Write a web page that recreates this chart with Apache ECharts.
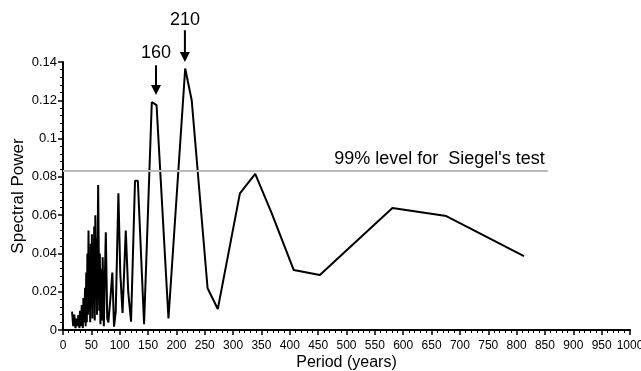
<!DOCTYPE html>
<html>
<head>
<meta charset="utf-8">
<script src="https://cdn.jsdelivr.net/npm/echarts@6/dist/echarts.min.js"></script>
<style>
  html, body { margin: 0; padding: 0; background: #fff; }
  #main { width: 641px; height: 371px; }
</style>
</head>
<body>
<div id="main"></div>
<script>
// period (years) and spectral power
var periods = [16, 18, 20, 22, 24, 26, 27, 29, 30, 32, 33, 35, 36, 37, 38, 39, 40, 41, 42, 43, 44, 45, 46, 47, 48, 49, 50,
  51, 52, 53, 54, 55, 56, 57, 58, 59, 60, 62, 64, 65, 66, 68, 69, 70, 72, 74, 75.5, 78, 80, 84, 87, 90, 93, 97.7,
  101, 105, 110.7, 115, 120, 127, 132, 143, 156.6, 165, 186, 215.5, 227, 255, 273, 312, 339, 368, 407, 453, 581, 676, 813];
var power = [0.0096, 0.002, 0.008, 0.001, 0.006, 0.002, 0.0078, 0.001, 0.010, 0.002, 0.013, 0.001, 0.0167, 0.004, 0.003, 0.022, 0.002, 0.030, 0.004, 0.040, 0.008, 0.052, 0.010, 0.035, 0.004, 0.045, 0.012,
  0.050, 0.006, 0.038, 0.015, 0.054, 0.005, 0.060, 0.020, 0.048, 0.008, 0.0757, 0.010, 0.040, 0.003, 0.032, 0.005, 0.038, 0.002, 0.030, 0.051, 0.006, 0.004, 0.018, 0.030, 0.0017, 0.0096, 0.0714,
  0.030, 0.0089, 0.052, 0.020, 0.0043, 0.078, 0.078, 0.0030, 0.119, 0.1175, 0.006, 0.1366, 0.120, 0.0218, 0.011, 0.0714, 0.0815, 0.061, 0.0313, 0.0287, 0.0637, 0.0595, 0.0386];

var sigLevel = 0.083;
var sigEnd = 855;
var sigLabel = "99% level for  Siegel's test";

// arrows marking the two main peaks
var arrowLabels = ['160', '210'];
var arrowX = [164, 215];
var arrowTop = [0.1383, 0.1566];
var arrowTip = [0.1227, 0.1400];
var arrowText = [0.1445, 0.1617];

var xTicks = [0, 1000, 50];
var yTicks = [0, 0.14, 0.02];

var font = 'Liberation Sans, Arial, sans-serif';
var chart = echarts.init(document.getElementById('main'));

var seriesData = periods.map(function (p, i) { return [p, power[i]]; });

var option = {
  animation: false,
  grid: { left: 63, right: 11, top: 62, bottom: 41, outerBoundsMode: 'none', containLabel: false },
  xAxis: {
    type: 'value',
    min: xTicks[0], max: xTicks[1], interval: xTicks[2],
    name: 'Period (years)',
    nameLocation: 'middle',
    nameGap: 25,
    nameMoveOverlap: false,
    nameTextStyle: { color: '#000', fontSize: 16, fontFamily: font },
    axisLine: { lineStyle: { color: '#000', width: 2 } },
    axisTick: { length: 5, lineStyle: { color: '#000', width: 1.5 } },
    minorTick: { show: true, splitNumber: 5, length: 3, lineStyle: { color: '#000', width: 1 } },
    splitLine: { show: false },
    axisLabel: {
      color: '#000', fontSize: 12, fontFamily: font, margin: 10, interval: 0, hideOverlap: false,
      formatter: function (v) { return String(v); }
    }
  },
  yAxis: {
    type: 'value',
    min: yTicks[0], max: yTicks[1], interval: yTicks[2],
    name: 'Spectral Power',
    nameLocation: 'middle',
    nameGap: 36,
    nameMoveOverlap: false,
    nameTextStyle: { color: '#000', fontSize: 17, fontFamily: font },
    axisLine: { show: true, lineStyle: { color: '#000', width: 2 } },
    axisTick: { show: true, length: 5, lineStyle: { color: '#000', width: 1.5 } },
    minorTick: { show: true, splitNumber: 5, length: 3, lineStyle: { color: '#000', width: 1 } },
    splitLine: { show: false },
    axisLabel: {
      color: '#000', fontSize: 13, fontFamily: font, margin: 6,
      formatter: function (v) { return String(+v.toFixed(2)); }
    }
  },
  series: [{
    type: 'line',
    data: seriesData,
    showSymbol: false,
    symbol: 'none',
    lineStyle: { color: '#000', width: 2 },
    markLine: {
      silent: true,
      symbol: ['none', 'none'],
      lineStyle: { color: '#bbb', width: 2, type: 'solid' },
      label: {
        position: 'insideEndTop',
        formatter: sigLabel,
        color: '#000', fontSize: 18, fontFamily: font, distance: 3
      },
      data: [[{ coord: [0, sigLevel] }, { coord: [sigEnd, sigLevel] }]]
    },
    z: 3
  }]
};
chart.setOption(option);

// arrows drawn outside the plot area, placed from data coords
var graphics = [];
arrowLabels.forEach(function (lab, i) {
  var top = chart.convertToPixel({ gridIndex: 0 }, [arrowX[i], arrowTop[i]]);
  var tip = chart.convertToPixel({ gridIndex: 0 }, [arrowX[i], arrowTip[i]]);
  var txt = chart.convertToPixel({ gridIndex: 0 }, [arrowX[i], arrowText[i]]);
  var headH = 10, headW = 5;
  graphics.push({
    type: 'line',
    shape: { x1: top[0], y1: top[1], x2: tip[0], y2: tip[1] - headH + 1 },
    style: { stroke: '#000', lineWidth: 2 },
    z: 10
  });
  graphics.push({
    type: 'polygon',
    shape: { points: [[tip[0] - headW, tip[1] - headH], [tip[0] + headW, tip[1] - headH], [tip[0], tip[1]]] },
    style: { fill: '#000' },
    z: 10
  });
  graphics.push({
    type: 'text',
    x: txt[0], y: txt[1],
    style: { text: lab, fill: '#000', fontSize: 18, fontFamily: font, align: 'center', verticalAlign: 'middle' },
    z: 10
  });
});
chart.setOption({ graphic: graphics });
</script>
</body>
</html>
